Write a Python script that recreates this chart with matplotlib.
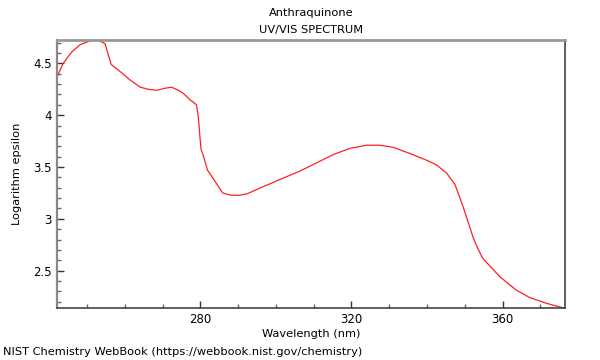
import matplotlib
matplotlib.use("Agg")
import matplotlib.pyplot as plt
from matplotlib.ticker import MultipleLocator, FuncFormatter

wavelength = [242, 243.7, 246, 248.2, 250.4, 252.6, 254.3, 254.8, 256.4, 258.8,
              261.4, 264.1, 266.2, 268.5, 270.7, 272.4, 274.2, 275.5, 276.4, 277.3,
              278, 279, 279.5, 279.9, 280.2, 280.8, 281.9, 283.4, 285.9, 287.8,
              290, 292.3, 295.8, 301.1, 306.3, 310.8, 315.2, 319.6, 324, 327.5,
              331, 335.5, 339.9, 342.5, 345.2, 347.4, 349.6, 352.2, 353.1, 354.7,
              359.3, 363.7, 367.2, 371.6, 376.5]
log_eps = [4.36, 4.5, 4.61, 4.68, 4.71, 4.725, 4.70, 4.687, 4.49, 4.42,
           4.34, 4.27, 4.25, 4.24, 4.26, 4.27, 4.24, 4.21, 4.18, 4.145,
           4.13, 4.10, 3.97, 3.79, 3.67, 3.61, 3.47, 3.39, 3.25, 3.23,
           3.226, 3.24, 3.297, 3.38, 3.46, 3.54, 3.62, 3.68, 3.71, 3.71,
           3.69, 3.63, 3.565, 3.52, 3.44, 3.33, 3.11, 2.82, 2.74, 2.62,
           2.44, 2.31, 2.24, 2.185, 2.137]

title_line1 = "Anthraquinone"
title_line2 = "UV/VIS SPECTRUM"
x_label = "Wavelength (nm)"
y_label = "Logarithm epsilon"
footer = "NIST Chemistry WebBook (https://webbook.nist.gov/chemistry)"

fig = plt.figure(figsize=(6, 3.6), dpi=100)
ax = fig.add_axes([56.7/600, 1-308.3/360, (565-56.7)/600, (308.3-40)/360])
ax.plot(wavelength, log_eps, color="#ff2020", lw=0.9)
ax.set_xlim(min(wavelength), max(wavelength))
ax.set_ylim(min(log_eps), max(log_eps))

ax.xaxis.set_major_locator(MultipleLocator(40))
ax.xaxis.set_minor_locator(MultipleLocator(10))
ax.yaxis.set_major_locator(MultipleLocator(0.5))
ax.yaxis.set_minor_locator(MultipleLocator(0.1))
ax.yaxis.set_major_formatter(FuncFormatter(lambda v, p: "%g" % v))
ax.tick_params(which="both", direction="in", top=False, right=False,
               labelsize=8.5, colors="#333333", labelcolor="black")
ax.tick_params(which="major", length=5, width=1)
ax.tick_params(which="minor", length=3, width=1, colors="#666666")

ax.spines["top"].set_color("#999999")
ax.spines["top"].set_linewidth(2.0)
ax.spines["left"].set_color("#888888")
ax.spines["left"].set_linewidth(1.6)
ax.spines["right"].set_color("#444444")
ax.spines["right"].set_linewidth(1.2)
ax.spines["bottom"].set_color("#444444")
ax.spines["bottom"].set_linewidth(1.2)

ax.set_xlabel(x_label, fontsize=8.2, labelpad=2)
ax.set_ylabel(y_label, fontsize=8.2, labelpad=8)

cx = (56.7 + 565) / 2 / 600
fig.text(cx, 1-13/360, title_line1, ha="center", va="center", fontsize=8.2)
fig.text(cx, 1-30/360, title_line2, ha="center", va="center", fontsize=8.2)
fig.text(3/600, 1-352/360, footer, ha="left", va="center", fontsize=8.2)

fig.savefig("out.png", dpi=100)
